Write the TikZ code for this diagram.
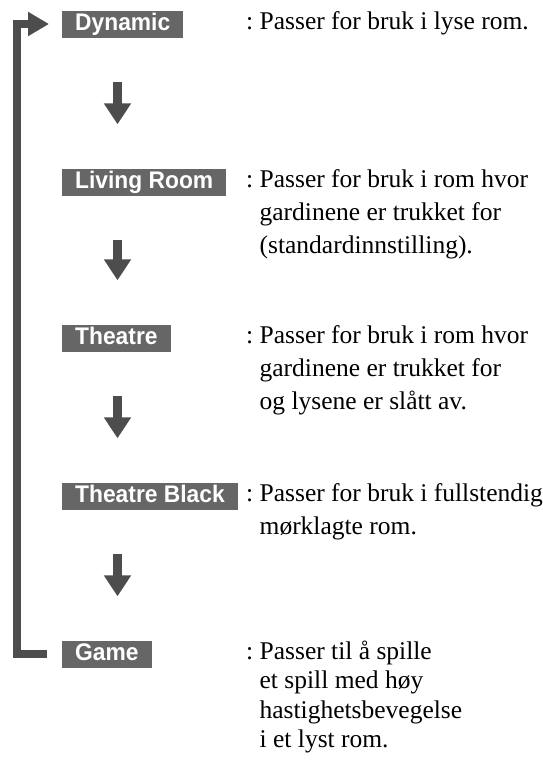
\documentclass[tikz,border=0pt]{standalone}
\usepackage{fontspec}
\setmainfont{Liberation Serif}
\newfontfamily\boxfont[FakeStretch=0.95]{Liberation Sans}
\usetikzlibrary{arrows.meta}

\begin{document}
\begin{tikzpicture}[x=1pt,y=-1pt,
  modebox/.style={fill=mgray,text=white,font=\fontsize{24}{24}\selectfont\boxfont\bfseries,
    inner xsep=13pt,inner ysep=0pt,text height=19.5pt,text depth=7.5pt,anchor=base west},
  modetext/.style={inner sep=0pt,align=left,anchor=base west,font=\fontsize{25.5}{33}\selectfont\frenchspacing},
  gametext/.style={modetext,font=\fontsize{25.5}{29.5}\selectfont\frenchspacing},
  steparrow/.style={-{Triangle[length=21pt,width=26pt]},line width=9pt,adark,shorten <=44pt,shorten >=44pt},
  looparrow/.style={-{Triangle[length=21pt,width=23pt]},line width=8pt,adark,line join=miter}]
  \definecolor{mgray}{RGB}{102,102,102}
  \definecolor{adark}{RGB}{77,77,77}
  \useasboundingbox (0,0) rectangle (543,763);
  \node[modebox] (dyn) at (62,30) {Dynamic};
  \node[modebox] (liv) at (62,188) {Living Room};
  \node[modebox] (thr) at (62,344) {Theatre};
  \node[modebox] (thb) at (62,502) {Theatre Black};
  \node[modebox] (gam) at (62,660) {Game};
  % multi-line nodes sit on the baseline of their last line
  \node[modetext] (dyntxt) at (246,29) {: Passer for bruk i lyse rom.};
  \node[modetext] (livtxt) at (246,253) {: Passer for bruk i rom hvor\\\hphantom{: }gardinene er trukket for\\\hphantom{: }(standardinnstilling).};
  \node[modetext] (thrtxt) at (246,409) {: Passer for bruk i rom hvor\\\hphantom{: }gardinene er trukket for\\\hphantom{: }og lysene er slått av.};
  \node[modetext] (thbtxt) at (246,534) {: Passer for bruk i fullstendig\\\hphantom{: }mørklagte rom.};
  \node[gametext] (gamtxt) at (246,747.5) {: Passer til å spille\\\hphantom{: }et spill med høy\\\hphantom{: }hastighetsbevegelse\\\hphantom{: }i et lyst rom.};
  \coordinate (ax) at (117.5,0);
  \draw[steparrow] (dyn.south -| ax) -- (liv.north -| ax);
  \draw[steparrow] (liv.south -| ax) -- (thr.north -| ax);
  \draw[steparrow] (thr.south -| ax) -- (thb.north -| ax);
  \draw[steparrow] (thb.south -| ax) -- (gam.north -| ax);
  \draw[looparrow] ([xshift=-15pt]gam.west) -- ([xshift=-45.3pt]gam.west) |- ([xshift=-13pt]dyn.west);
\end{tikzpicture}
\end{document}
